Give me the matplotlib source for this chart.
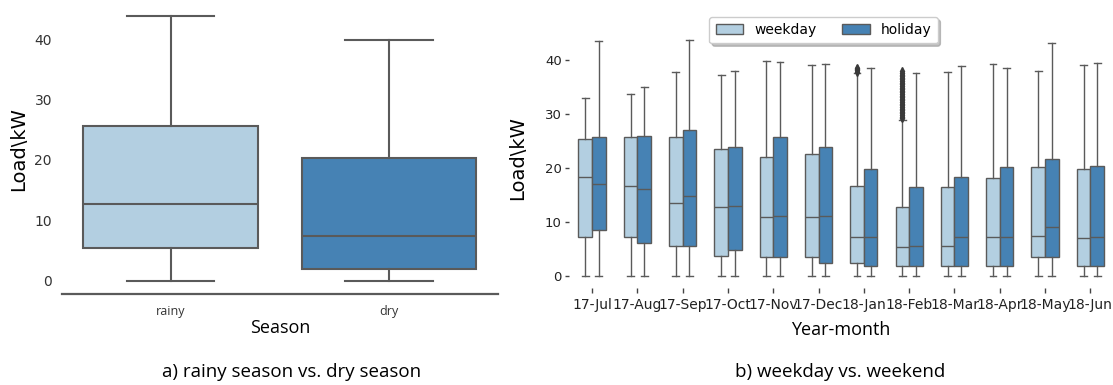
import matplotlib
matplotlib.use('Agg')
import matplotlib.pyplot as plt
from matplotlib.patches import Patch
from matplotlib import font_manager

# --- panel a: season ---
seasons = ['rainy', 'dry']
season_lo = [0.0, 0.0]
season_q1 = [5.4, 1.9]
season_med = [12.8, 7.4]
season_q3 = [25.6, 20.3]
season_hi = [43.8, 39.9]

# --- panel b: year-month, weekday vs holiday ---
months = ['17-Jul', '17-Aug', '17-Sep', '17-Oct', '17-Nov', '17-Dec',
          '18-Jan', '18-Feb', '18-Mar', '18-Apr', '18-May', '18-Jun']
wd_lo = [0, 0, 0, 0, 0, 0, 0, 0, 0, 0, 0, 0]
wd_q1 = [7.3, 7.3, 5.6, 3.7, 3.6, 3.6, 2.4, 1.8, 1.9, 1.9, 3.6, 1.9]
wd_med = [18.3, 16.6, 13.5, 12.7, 11.0, 10.9, 7.2, 5.4, 5.6, 7.3, 7.4, 7.1]
wd_q3 = [25.3, 25.8, 25.7, 23.6, 22.1, 22.5, 16.6, 12.7, 16.4, 18.2, 20.2, 19.9]
wd_hi = [33.0, 33.7, 37.7, 37.3, 39.9, 39.1, 37.5, 28.9, 37.7, 39.2, 37.9, 39.0]

hd_lo = [0, 0, 0, 0, 0, 0, 0, 0, 0, 0, 0, 0]
hd_q1 = [8.5, 6.2, 5.6, 4.8, 3.6, 2.5, 1.9, 1.9, 1.9, 1.9, 3.6, 1.9]
hd_med = [17.0, 16.1, 14.8, 12.9, 11.1, 11.1, 7.3, 5.5, 7.3, 7.3, 9.0, 7.3]
hd_q3 = [25.7, 26.0, 27.1, 23.9, 25.7, 23.9, 19.9, 16.4, 18.4, 20.2, 21.6, 20.4]
hd_hi = [43.6, 35.0, 43.7, 38.0, 39.6, 39.3, 38.5, 37.6, 38.8, 38.6, 43.1, 39.4]

# weekday outliers (18-Jan, 18-Feb)
jan_fliers = [37.8, 38.1, 38.4, 38.6]
feb_fliers = [29.2, 29.5, 29.8, 30.1, 30.4, 30.7, 31.0, 31.3, 31.6, 31.9,
              32.2, 32.5, 32.8, 33.1, 33.4, 33.7, 34.0, 34.3, 34.6, 34.9,
              35.2, 35.5, 35.8, 36.1, 36.4, 36.7, 37.0, 37.3, 37.6, 38.0]
wd_fliers = {'18-Jan': jan_fliers, '18-Feb': feb_fliers}

LIGHT = '#b3cfe1'
DARK = '#4682b4'
EDGE = '#5a5a5a'

font_names = {f.name for f in font_manager.fontManager.ttflist}
if 'Liberation Sans Narrow' in font_names:
    narrow = ['Liberation Sans Narrow', 'DejaVu Sans']
    xt_size, yt_size, leg_size = 12.5, 10.5, 11.5
else:
    narrow = ['DejaVu Sans']
    xt_size, yt_size, leg_size = 10, 9.5, 10
cap_font = ['Open Sans', 'DejaVu Sans']


def make_stats(lo, q1, med, q3, hi, labels, fliers=None):
    stats = []
    for i, lab in enumerate(labels):
        stats.append({'label': lab, 'whislo': lo[i], 'q1': q1[i], 'med': med[i],
                      'q3': q3[i], 'whishi': hi[i],
                      'fliers': (fliers or {}).get(lab, [])})
    return stats


fig = plt.figure(figsize=(11.13, 3.85), dpi=100)

# ---------------- panel a ----------------
ax1 = fig.add_axes([0.0554, 0.2364, 0.3923, 0.755])
st = make_stats(season_lo, season_q1, season_med, season_q3, season_hi, seasons)
lp = dict(color=EDGE, linewidth=1.5)
b1 = ax1.bxp(st, positions=[0, 1], widths=0.8, patch_artist=True,
             boxprops=dict(edgecolor=EDGE, linewidth=1.5),
             whiskerprops=lp, capprops=lp, medianprops=lp, showfliers=False)
for patch, c in zip(b1['boxes'], [LIGHT, DARK]):
    patch.set_facecolor(c)
ax1.set_xlim(-0.5, 1.5)
ax1.set_ylim(-2.15, 45.9)
ax1.set_yticks([0, 10, 20, 30, 40])
for s in ['left', 'top', 'right']:
    ax1.spines[s].set_visible(False)
ax1.spines['bottom'].set_color(EDGE)
ax1.spines['bottom'].set_linewidth(1.6)
ax1.tick_params(axis='y', length=0, pad=7, labelsize=10, labelcolor='#333333')
ax1.tick_params(axis='x', length=0, pad=8)
ax1.set_xticks([0, 1])
ax1.set_xticklabels(seasons, fontsize=9, family=cap_font, color='#333333')
ax1.set_xlabel('Season', fontsize=13, family=cap_font)
ax1.xaxis.set_label_coords(0.5, -0.086)
ax1.set_ylabel('Load\\kW', fontsize=14)
ax1.yaxis.set_label_coords(-0.077, 0.5)

# ---------------- panel b ----------------
ax2 = fig.add_axes([0.5116, 0.2525, 0.4884, 0.6745])
pos = list(range(len(months)))
lp2 = dict(color=EDGE, linewidth=1.0)
fp = dict(marker='d', markersize=4, markerfacecolor='#3a3a3a',
          markeredgecolor='#3a3a3a', linestyle='none')
st_wd = make_stats(wd_lo, wd_q1, wd_med, wd_q3, wd_hi, months, wd_fliers)
st_hd = make_stats(hd_lo, hd_q1, hd_med, hd_q3, hd_hi, months)
for stats, off, col in [(st_wd, -0.15, LIGHT), (st_hd, 0.15, DARK)]:
    b = ax2.bxp(stats, positions=[p + off for p in pos], widths=0.3,
                patch_artist=True, manage_ticks=False,
                boxprops=dict(edgecolor=EDGE, linewidth=1.0, facecolor=col),
                whiskerprops=lp2, capprops=lp2, medianprops=lp2,
                flierprops=fp)
ax2.set_xlim(-0.5, len(months) - 0.5)
ax2.set_ylim(-2.18, 45.9)
ax2.set_xticks(pos)
ax2.set_xticklabels(months, fontsize=xt_size, family=narrow, color='#222222')
ax2.set_yticks([0, 10, 20, 30, 40])
ax2.set_yticklabels(['0', '10', '20', '30', '40'], fontsize=yt_size,
                    family=narrow, color='#222222')
for s in ax2.spines.values():
    s.set_visible(False)
ax2.tick_params(axis='x', length=3.6, width=1, color='#444444', pad=4)
ax2.tick_params(axis='y', length=3, width=1, color='#444444', pad=2.5)
ax2.set_xlabel('Year-month', fontsize=13, family=cap_font)
ax2.xaxis.set_label_coords(0.5, -0.127)
ax2.set_ylabel('Load\\kW', fontsize=14)
ax2.yaxis.set_label_coords(-0.078, 0.5)

handles = [Patch(facecolor=LIGHT, edgecolor=EDGE, linewidth=1.0, label='weekday'),
           Patch(facecolor=DARK, edgecolor=EDGE, linewidth=1.0, label='holiday')]
fig.legend(handles=handles, loc='upper center', ncol=2,
           bbox_to_anchor=(823.5 / 1113, 1 - 10 / 385),
           prop={'family': narrow, 'size': leg_size},
           frameon=True, fancybox=True, shadow={'color': '#888888', 'alpha': 0.5},
           columnspacing=1.8, handlelength=2.0, borderpad=0.45, edgecolor='#cccccc')

# captions
fig.text(292 / 1113, 1 - 372 / 385, 'a) rainy season vs. dry season',
         ha='center', va='center', fontsize=13.5, family=cap_font)
fig.text(840 / 1113, 1 - 372 / 385, 'b) weekday vs. weekend',
         ha='center', va='center', fontsize=13.5, family=cap_font)

fig.savefig('out.png', dpi=100)
